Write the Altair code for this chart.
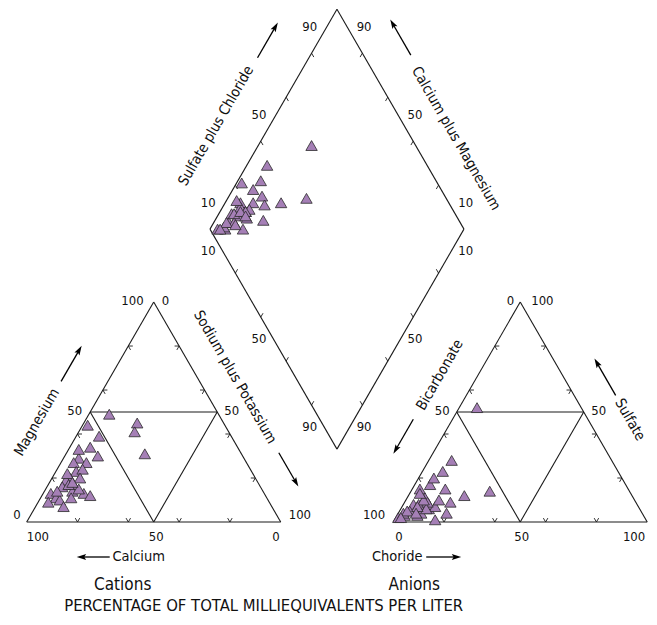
import altair as alt
import numpy as np
import pandas as pd

# ---- sample chemistry (percent of total milliequivalents per liter) ----
calcium          = [34, 43, 37, 38, 54, 52, 58, 57, 65, 63, 68, 69, 73, 75, 78, 73, 84, 83, 82, 82, 75, 77, 71, 69, 66, 73, 75, 69, 81, 72, 63, 87, 73]
magnesium        = [45, 49, 41, 31, 44, 39, 34, 30, 29, 27, 27, 23, 20, 19, 16, 17, 13, 11, 10, 7, 14, 11, 13, 12, 24, 22, 17, 20, 14, 15, 33, 9, 18]
sodium_potassium = [21, 8, 22, 31, 2, 9, 8, 13, 6, 10, 5, 8, 7, 6, 6, 10, 3, 6, 8, 11, 11, 12, 16, 19, 10, 5, 8, 11, 5, 13, 4, 4, 9]
bicarbonate      = [41, 63, 66, 55, 77, 69, 74, 72, 82, 82, 88, 86, 83, 91, 94, 82, 97, 87, 89, 77, 80, 83, 73, 77, 82, 94, 84, 83, 92, 87, 83, 96, 89]
sulfate          = [52, 28, 12, 14, 17, 23, 20, 15, 15, 11, 8, 8, 6, 5, 3, 8, 2, 4, 3, 4, 7, 1, 9, 10, 9, 4, 6, 10, 5, 7, 13, 2, 4]
chloride         = [7, 9, 22, 31, 6, 8, 6, 13, 3, 7, 4, 6, 11, 4, 3, 10, 1, 9, 8, 19, 13, 16, 18, 13, 9, 2, 10, 7, 3, 6, 4, 2, 7]

# ---- axis text ----
tick_values = [20, 40, 60, 80]
cation_title = "Cations"
anion_title = "Anions"
main_title = "PERCENTAGE OF TOTAL MILLIEQUIVALENTS PER LITER"

FONT = "Liberation Sans Narrow, Arial Narrow, DejaVu Sans Condensed, sans-serif"
PURPLE = "#a57fb6"

# ---- geometry (triangle side = 100 units) ----
S = 2.54                      # pixels per unit
H = np.sqrt(3) / 2
GAP = 44.3
YB = 28.7
CA_BL, CA_BR, CA_T = (0.0, 0.0), (100.0, 0.0), (50.0, 100 * H)
X0 = 100 + GAP
AN_BL, AN_BR, AN_T = (X0, 0.0), (X0 + 100, 0.0), (X0 + 50, 100 * H)
XC = (100 + X0) / 2
D_B, D_L, D_T, D_R = (XC, YB), (XC - 50, YB + 100 * H), (XC, YB + 200 * H), (XC + 50, YB + 100 * H)

W, HGT = 640, 607
X_MIN = -18.7 / S
Y_MIN = -(HGT - 514) / S
xs = alt.Scale(domain=[X_MIN, X_MIN + W / S], nice=False, zero=False)
ys = alt.Scale(domain=[Y_MIN, Y_MIN + HGT / S], nice=False, zero=False)


def pt(P, Q, t):
    return (P[0] + t * (Q[0] - P[0]), P[1] + t * (Q[1] - P[1]))


def off(p, dx_px, dy_px):
    return (p[0] + dx_px / S, p[1] + dy_px / S)


def nrm(p, n, d_px):
    return (p[0] + n[0] * d_px / S, p[1] + n[1] * d_px / S)


# ---- frame lines ----
segs = []
def seg(a, b):
    segs.append(dict(x=a[0], y=a[1], x2=b[0], y2=b[1]))

for (bl, br, tp) in [(CA_BL, CA_BR, CA_T), (AN_BL, AN_BR, AN_T)]:
    seg(bl, br); seg(br, tp); seg(tp, bl)
    ml, mr, mb = pt(bl, tp, 0.5), pt(br, tp, 0.5), pt(bl, br, 0.5)
    seg(ml, mr); seg(ml, mb); seg(mr, mb)
seg(D_L, D_T); seg(D_T, D_R); seg(D_R, D_B); seg(D_B, D_L)

# ---- ticks ----
ticks = []
TL = 4.5 / S
def tick(p, d):
    ticks.append(dict(x=p[0], y=p[1], x2=p[0] + d[0] * TL, y2=p[1] + d[1] * TL))

UR, UL, RT, LT, DR, DL = (0.5, H), (-0.5, H), (1, 0), (-1, 0), (0.5, -H), (-0.5, -H)
for (bl, br, tp) in [(CA_BL, CA_BR, CA_T), (AN_BL, AN_BR, AN_T)]:
    for v in tick_values:
        t = v / 100
        p = pt(bl, br, t); tick(p, UR); tick(p, UL)
        p = pt(bl, tp, t); tick(p, RT); tick(p, DR)
        p = pt(br, tp, t); tick(p, LT); tick(p, DL)
for v in tick_values:
    t = v / 100
    tick(pt(D_L, D_T, t), DR)
    tick(pt(D_T, D_R, t), DL)
    tick(pt(D_L, D_B, t), UR)
    tick(pt(D_R, D_B, t), UL)

# ---- sample positions ----
ca = np.array(calcium, float); mg = np.array(magnesium, float); na = np.array(sodium_potassium, float)
hc = np.array(bicarbonate, float); so = np.array(sulfate, float); cl = np.array(chloride, float)
cat = pd.DataFrame(dict(x=na + mg / 2, y=mg * H))
ani = pd.DataFrame(dict(x=X0 + cl + so / 2, y=so * H))
s_frac = (so + cl) / 100
c_frac = (ca + mg) / 100
dia = pd.DataFrame(dict(
    x=D_B[0] + s_frac * (D_R[0] - D_B[0]) + c_frac * (D_L[0] - D_B[0]),
    y=D_B[1] + s_frac * (D_R[1] - D_B[1]) + c_frac * (D_L[1] - D_B[1]),
))
samples = pd.concat([cat, ani, dia], ignore_index=True)

# ---- number labels ----
NUM = 13
labs = {"left": [], "right": [], "center": []}
def lab(p, text, align, dx=0, dy=0, size=NUM, angle=0):
    q = off(p, dx, dy)
    labs[align].append(dict(x=q[0], y=q[1], label=text, fs=size, angle=angle))

# cation triangle
lab(CA_T, "100", "right", -10, 1.5); lab(CA_T, "0", "left", 8, 1.5)
lab(pt(CA_BL, CA_T, .5), "50", "right", -8, 1.5); lab(pt(CA_BR, CA_T, .5), "50", "left", 7, 1.5)
lab(CA_BL, "0", "right", -6, 7); lab(CA_BR, "100", "left", 8, 7)
lab(CA_BL, "100", "left", 0, -14.5); lab(pt(CA_BL, CA_BR, .5), "50", "center", 2.5, -14.5)
lab(CA_BR, "0", "right", -1, -14.5)
# anion triangle
lab(AN_T, "0", "right", -6, 1.5); lab(AN_T, "100", "left", 11, 1.5)
lab(pt(AN_BL, AN_T, .5), "50", "right", -7, 1.5); lab(pt(AN_BR, AN_T, .5), "50", "left", 7.5, 1.5)
lab(AN_BL, "100", "right", -8, 7); lab(AN_BR, "0", "left", 5, 7)
lab(AN_BL, "0", "left", 2, -14.5); lab(pt(AN_BL, AN_BR, .5), "50", "center", 1.5, -14.5)
lab(AN_BR, "100", "right", -2, -14.5)
# diamond
for t, txt in [(.1, "10"), (.5, "50"), (.9, "90")]:
    lab(pt(D_L, D_T, t), txt, "right", -7, 4)
    lab(pt(D_L, D_B, t), txt, "right", -7, 0)
    lab(pt(D_R, D_T, t), txt, "left", 7, 4)
    lab(pt(D_R, D_B, t), txt, "left", 7, 0)

# ---- axis titles with arrows ----
TITLE = 14.5
NL, NR = (-H, 0.5), (H, 0.5)
arrows = []
def arrow(a, b):
    arrows.append(dict(x=a[0], y=a[1], x2=b[0], y2=b[1]))

def side_title(P, Q, t, d, text, angle, a0, a1, da):
    n = NL if angle == 300 else NR
    lab(nrm(pt(P, Q, t), n, d), text, "center", size=TITLE, angle=angle)
    arrow(nrm(pt(P, Q, a0), n, da), nrm(pt(P, Q, a1), n, da))

side_title(CA_BL, CA_T, .36, 40.6, "Magnesium", 300, .547, .709, 40.5)
side_title(CA_T, CA_BR, .416, 32.5, "Sodium plus Potassium", 60, .76, .914, 33)
side_title(D_L, D_T, .364, 46, "Sulfate plus Chloride", 300, .678, .838, 44.5)
side_title(D_T, D_R, .675, 38, "Calcium plus Magnesium", 60, .302, .14, 41)
side_title(AN_BL, AN_T, .593, 32.7, "Bicarbonate", 300, .39, .233, 34)
side_title(AN_T, AN_BR, .617, 35.8, "Sulfate", 60, .506, .339, 36)

lab(CA_BL, "Calcium", "center", 112, -35, size=TITLE)
arrow(off(CA_BL, 83, -35), off(CA_BL, 50, -35))
lab(AN_BL, "Choride", "center", 4, -35, size=TITLE)
arrow(off(AN_BL, 33, -35), off(AN_BL, 68, -35))

lab(CA_BL, cation_title, "center", 96, -63, size=17)
lab(AN_BL, anion_title, "center", 21, -63, size=17)
lab(CA_BL, main_title, "center", 237, -84, size=16.5)

# arrow heads
HEAD = 110
r_head = np.sqrt(HEAD) / 2 / S
heads = []
shafts = []
for a in arrows:
    dx, dy = a["x2"] - a["x"], a["y2"] - a["y"]
    L = np.hypot(dx, dy)
    ux, uy = dx / L, dy / L
    ang = (np.degrees(np.arctan2(ux, uy)) + 360) % 360
    heads.append(dict(x=a["x2"] - ux * r_head, y=a["y2"] - uy * r_head, angle=ang))
    shafts.append(dict(x=a["x"], y=a["y"], x2=a["x2"] - ux * r_head, y2=a["y2"] - uy * r_head))

X = lambda f="x": alt.X(f + ":Q", scale=xs, axis=None)
Y = lambda f="y": alt.Y(f + ":Q", scale=ys, axis=None)

frame = alt.Chart(pd.DataFrame(segs)).mark_rule(color="#1a1a1a", strokeWidth=1.1).encode(
    x=X(), y=Y(), x2="x2:Q", y2="y2:Q")
tick_layer = alt.Chart(pd.DataFrame(ticks)).mark_rule(color="#1a1a1a", strokeWidth=0.9).encode(
    x=X(), y=Y(), x2="x2:Q", y2="y2:Q")
shaft_layer = alt.Chart(pd.DataFrame(shafts)).mark_rule(color="black", strokeWidth=1.3).encode(
    x=X(), y=Y(), x2="x2:Q", y2="y2:Q")
head_layer = alt.Chart(pd.DataFrame(heads)).mark_point(
    shape="M0,-1L0.55,0.8L0,0.45L-0.55,0.8Z", filled=True, color="black", size=HEAD, opacity=1
).encode(x=X(), y=Y(), angle=alt.Angle("angle:Q", scale=None))
pts = alt.Chart(samples).mark_point(
    shape="triangle-up", filled=True, fill=PURPLE, stroke="#2a2a2a", strokeWidth=0.8, size=130, opacity=1
).encode(x=X(), y=Y())

texts = []
for align, rows in labs.items():
    if not rows:
        continue
    texts.append(alt.Chart(pd.DataFrame(rows)).mark_text(
        align=align, baseline="middle", font=FONT, color="#111111"
    ).encode(x=X(), y=Y(), text="label:N",
             size=alt.Size("fs:Q", scale=None), angle=alt.Angle("angle:Q", scale=None)))

chart = alt.layer(frame, tick_layer, shaft_layer, head_layer, pts, *texts).properties(
    width=W, height=HGT, padding=0, autosize="none"
).configure_view(stroke=None)

chart.save("out.html", embed_options={"renderer": "svg", "actions": False})
